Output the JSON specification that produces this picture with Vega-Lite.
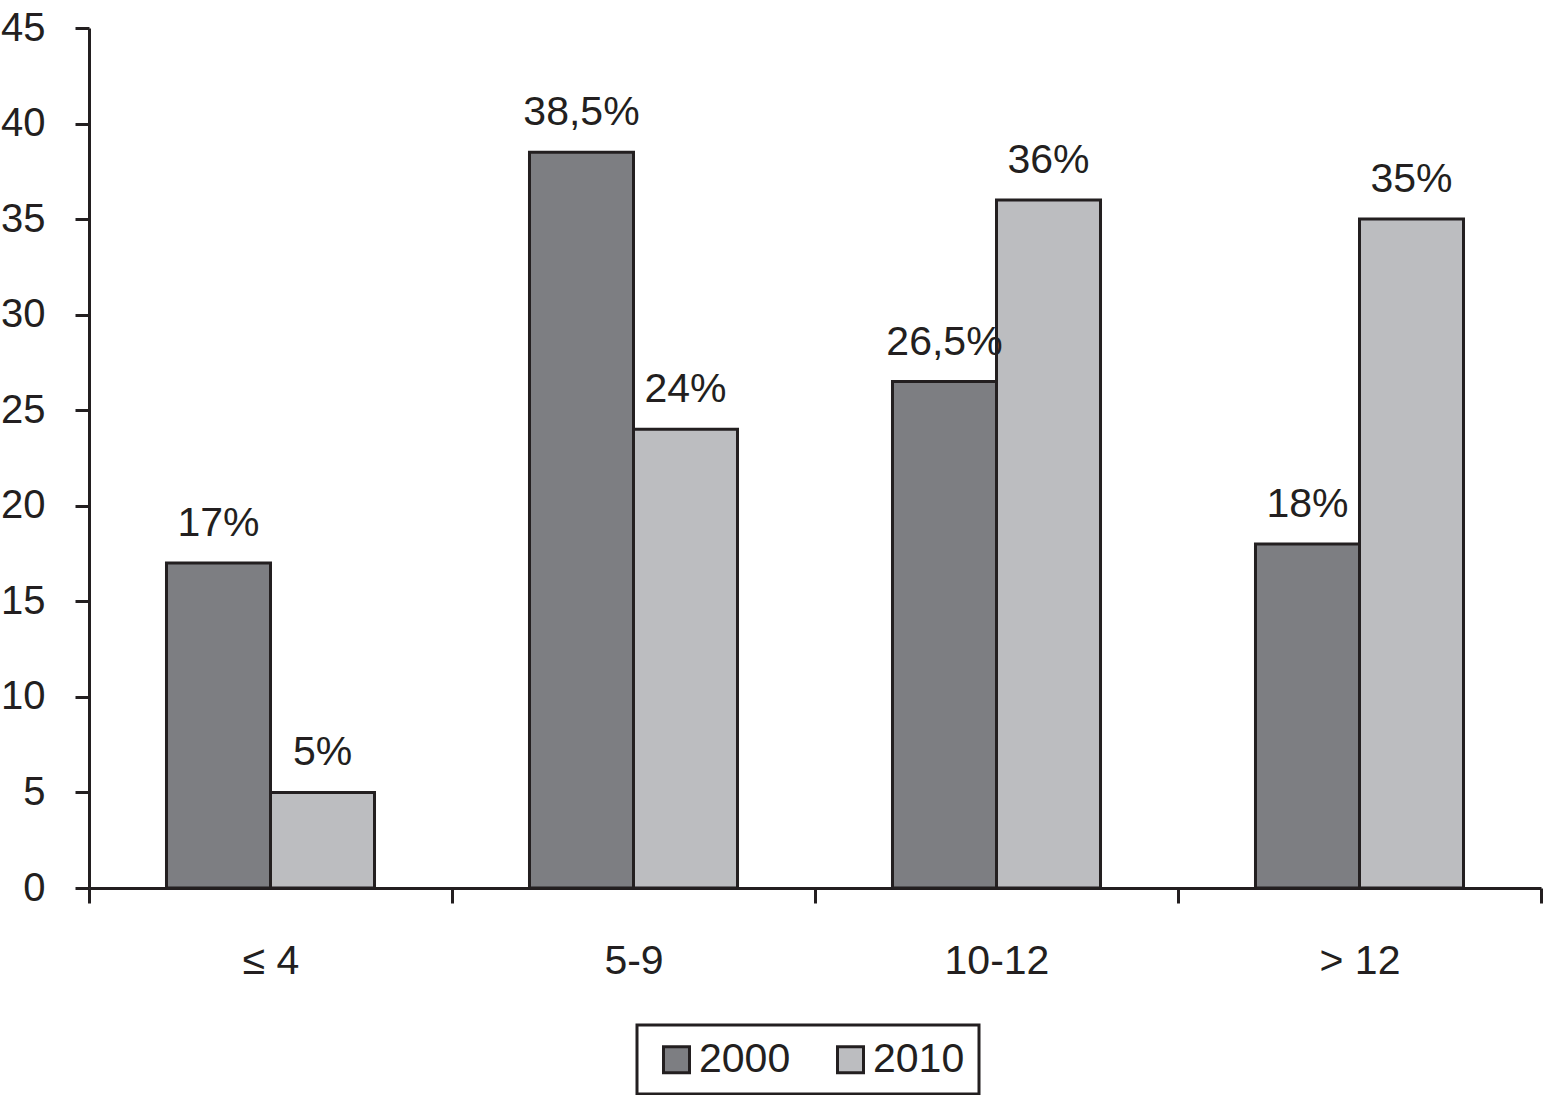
{
  "$schema": "https://vega.github.io/schema/vega-lite/v6.json",
  "autosize": "none",
  "width": 1452,
  "height": 860,
  "padding": {"left": 89, "top": 28, "right": 2, "bottom": 207},
  "background": "white",
  "config": {
    "view": {"stroke": null},
    "font": "Liberation Sans",
    "axis": {
      "domainColor": "#231f20", "domainWidth": 3, "tickColor": "#231f20", "tickWidth": 3,
      "labelFont": "Liberation Sans", "labelFontSize": 41, "labelColor": "#231f20", "grid": false, "title": null
    },
    "legend": {"strokeWidth": 3}
  },
  "data": {
    "values": [
      {"group": "≤ 4", "year": "2000", "value": 17, "label": "17%"},
      {"group": "≤ 4", "year": "2010", "value": 5, "label": "5%"},
      {"group": "5-9", "year": "2000", "value": 38.5, "label": "38,5%"},
      {"group": "5-9", "year": "2010", "value": 24, "label": "24%"},
      {"group": "10-12", "year": "2000", "value": 26.5, "label": "26,5%"},
      {"group": "10-12", "year": "2010", "value": 36, "label": "36%"},
      {"group": "> 12", "year": "2000", "value": 18, "label": "18%"},
      {"group": "> 12", "year": "2010", "value": 35, "label": "35%"}
    ]
  },
  "encoding": {
    "x": {
      "field": "group", "type": "nominal", "sort": null,
      "scale": {"paddingInner": 0, "paddingOuter": 0},
      "axis": {"labelAngle": 0, "tickBand": "extent", "tickSize": 15, "labelPadding": 70, "labelBaseline": "alphabetic"}
    },
    "xOffset": {"field": "year", "type": "nominal", "scale": {"paddingInner": 0, "paddingOuter": 0.745}},
    "y": {
      "field": "value", "type": "quantitative",
      "scale": {"domain": [0, 45], "nice": false},
      "axis": {"values": [0, 5, 10, 15, 20, 25, 30, 35, 40, 45], "tickSize": 14, "labelPadding": 30, "labelFontSize": 40, "labelBaseline": "middle"}
    }
  },
  "layer": [
    {
      "mark": {"type": "bar", "stroke": "#231f20", "strokeWidth": 3},
      "encoding": {
        "color": {
          "field": "year", "type": "nominal",
          "scale": {"domain": ["2000", "2010"], "range": ["#7d7e82", "#bcbdc0"]},
          "legend": {
            "title": null, "orient": "none", "direction": "horizontal", "legendX": 548, "legendY": 997,
            "strokeColor": "#231f20", "padding": 14, "symbolType": "square", "symbolSize": 676,
            "symbolStrokeColor": "#231f20", "symbolStrokeWidth": 3, "symbolOffset": 5,
            "labelFontSize": 41, "labelFont": "Liberation Sans", "labelColor": "#231f20", "labelOffset": 2, "columnPadding": 34
          }
        }
      }
    },
    {
      "mark": {"type": "text", "fontSize": 41, "font": "Liberation Sans", "color": "#231f20", "baseline": "alphabetic", "dy": -27},
      "encoding": {"text": {"field": "label"}}
    }
  ]
}
